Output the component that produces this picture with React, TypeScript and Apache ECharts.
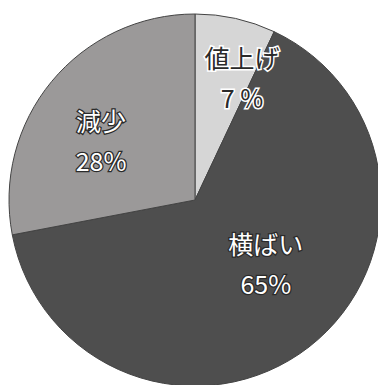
import React, { useEffect, useRef } from "react";
import * as echarts from "echarts";

const categories = ["値上げ", "横ばい", "減少"];
const values = [7, 65, 28];
const valueLabels = ["7 %", "65%", "28%"];
const colors = ["#d6d6d6", "#4e4e4e", "#9b9999"];

export default function App() {
  const ref = useRef<HTMLDivElement>(null);
  useEffect(() => {
    document.body.style.margin = "0";
    const chart = echarts.init(ref.current!, null, { renderer: "svg" });
    const offsets = [
      [26, -29],
      [12, -13],
      [-20, 1],
    ];
    const light = {
      color: "#2a2a2a",
      textBorderColor: "#ffffff",
      textBorderWidth: 3,
    };
    const dark = {
      color: "#ffffff",
      textBorderColor: "#2a2a2a",
      textBorderWidth: 2.5,
    };
    chart.setOption({
      animation: false,
      backgroundColor: "#ffffff",
      series: [
        {
          type: "pie",
          center: [195, 200],
          radius: 186,
          startAngle: 90,
          clockwise: true,
          avoidLabelOverlap: false,
          data: categories.map((name, i) => ({
            name,
            value: values[i],
            itemStyle: { color: colors[i] },
            label: {
              offset: offsets[i],
              ...(i === 0 ? light : dark),
            },
          })),
          itemStyle: { borderColor: "#444444", borderWidth: 1 },
          label: {
            show: true,
            position: "inside",
            fontFamily: "Noto Sans CJK JP",
            fontSize: 25,
            fontWeight: "normal",
            lineHeight: 40,
            align: "center",
            formatter: (p: any) => `${p.name}\n${valueLabels[p.dataIndex]}`,
          },
          labelLine: { show: false },
          emphasis: { disabled: true },
        },
      ],
    });
    return () => chart.dispose();
  }, []);
  return (
    <div
      ref={ref}
      style={{ position: "absolute", left: 0, top: 0, width: 378, height: 385 }}
    />
  );
}
